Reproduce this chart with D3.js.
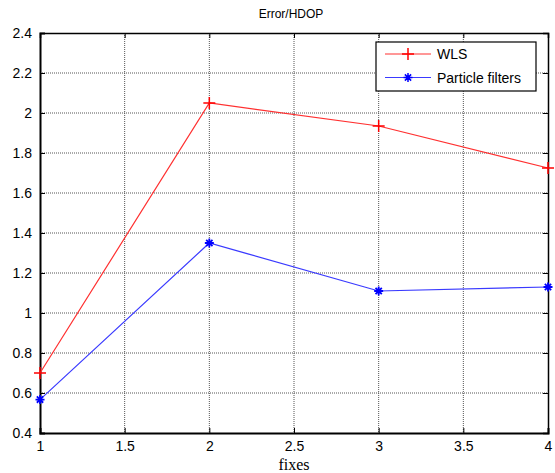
<!DOCTYPE html>
<html>
<head>
<meta charset="utf-8">
<script src="https://cdn.jsdelivr.net/npm/d3@7"></script>
<style>
  body { margin: 0; background: #fff; }
  svg { display: block; }
  .tick text { font-family: "Liberation Sans", Arial, sans-serif; font-size: 14px; fill: #000; }
</style>
</head>
<body>
<div id="chart"></div>
<script>
// Data
const fixes = [1, 2, 3, 4];
const wlsValues = [0.70, 2.05, 1.935, 1.725];
const pfValues = [0.567, 1.35, 1.11, 1.13];
const xTicks = [1, 1.5, 2, 2.5, 3, 3.5, 4];
const yTicks = [0.4, 0.6, 0.8, 1, 1.2, 1.4, 1.6, 1.8, 2, 2.2, 2.4];
const seriesNames = ["WLS", "Particle filters"];

const W = 555, H = 473;
const margin = { top: 33, right: 7, bottom: 40, left: 40 };
const width = W - margin.left - margin.right;
const height = H - margin.top - margin.bottom;

const svg = d3.select("#chart").append("svg")
  .attr("width", W)
  .attr("height", H);

const g = svg.append("g")
  .attr("transform", `translate(${margin.left},${margin.top})`);

const x = d3.scaleLinear().domain([1, 4]).range([0, width]);
const y = d3.scaleLinear().domain([0.4, 2.4]).range([height, 0]);

// Grid lines (dotted)
g.append("g").selectAll("line")
  .data(xTicks.slice(1, -1))
  .enter().append("line")
  .attr("x1", d => x(d)).attr("x2", d => x(d))
  .attr("y1", 0).attr("y2", height)
  .attr("stroke", "#555").attr("stroke-width", 1)
  .attr("stroke-dasharray", "1,1");

g.append("g").selectAll("line")
  .data(yTicks.slice(1, -1))
  .enter().append("line")
  .attr("x1", 0).attr("x2", width)
  .attr("y1", d => y(d)).attr("y2", d => y(d))
  .attr("stroke", "#555").attr("stroke-width", 1)
  .attr("stroke-dasharray", "1,1");

// Axes with inward ticks, box on all sides
const fmt = d => d3.format("")(+d.toFixed(2));
g.append("g")
  .attr("transform", `translate(0,${height})`)
  .call(d3.axisBottom(x).tickValues(xTicks).tickSize(-5).tickPadding(8).tickFormat(fmt))
  .call(a => a.select(".domain").attr("stroke-width", 2));
g.append("g")
  .call(d3.axisLeft(y).tickValues(yTicks).tickSize(-5).tickPadding(8).tickFormat(fmt))
  .call(a => a.select(".domain").attr("stroke-width", 2));
g.append("g")
  .call(d3.axisTop(x).tickValues(xTicks).tickSize(-5).tickFormat(""))
  .call(a => a.select(".domain").attr("stroke-width", 1.5));
g.append("g")
  .attr("transform", `translate(${width},0)`)
  .call(d3.axisRight(y).tickValues(yTicks).tickSize(-5).tickFormat(""))
  .call(a => a.select(".domain").attr("stroke-width", 1.5));
g.selectAll(".domain").attr("stroke", "#000");

// Lines
const line = d3.line().x((d, i) => x(fixes[i])).y(d => y(d));

g.append("path").datum(wlsValues)
  .attr("fill", "none").attr("stroke", "#ff3030").attr("stroke-width", 1.2)
  .attr("d", line);
g.append("path").datum(pfValues)
  .attr("fill", "none").attr("stroke", "#3a3aff").attr("stroke-width", 1.2)
  .attr("d", line);

// Markers
function plusPath(s) { return `M${-s},0H${s}M0,${-s}V${s}`; }
function starPath(s) {
  const d = s * 0.7;
  return `M${-s},0H${s}M0,${-s}V${s}M${-d},${-d}L${d},${d}M${-d},${d}L${d},${-d}`;
}

g.append("g").selectAll("path")
  .data(wlsValues).enter().append("path")
  .attr("transform", (d, i) => `translate(${x(fixes[i])},${y(d)})`)
  .attr("d", plusPath(6))
  .attr("stroke", "#ff0000").attr("stroke-width", 1.5);

g.append("g").selectAll("path")
  .data(pfValues).enter().append("path")
  .attr("transform", (d, i) => `translate(${x(fixes[i])},${y(d)})`)
  .attr("d", starPath(4.5))
  .attr("stroke", "#0000ff").attr("stroke-width", 1.8);

// Title and x label
svg.append("text")
  .attr("x", margin.left + width / 2 - 3).attr("y", 18)
  .attr("text-anchor", "middle")
  .style("font-family", "Liberation Sans, Arial, sans-serif")
  .style("font-size", "12px")
  .text("Error/HDOP");

svg.append("text")
  .attr("x", margin.left + width / 2).attr("y", 470)
  .attr("text-anchor", "middle")
  .style("font-family", "Liberation Serif, Times New Roman, serif")
  .style("font-size", "16px")
  .text("fixes");

// Legend
const legend = svg.append("g").attr("transform", "translate(376,42)");
legend.append("rect")
  .attr("width", 160).attr("height", 49)
  .attr("fill", "#fff").attr("stroke", "#000").attr("stroke-width", 1.2);

const legendColors = ["#ff3030", "#3a3aff"];
const legendMarkers = [plusPath(6), starPath(4.5)];
const markerColors = ["#ff0000", "#0000ff"];
seriesNames.forEach((name, i) => {
  const ly = 12 + i * 23.5;
  legend.append("line")
    .attr("x1", 9).attr("x2", 55).attr("y1", ly).attr("y2", ly)
    .attr("stroke", legendColors[i]).attr("stroke-width", 1.2);
  legend.append("path")
    .attr("transform", `translate(32,${ly})`)
    .attr("d", legendMarkers[i])
    .attr("stroke", markerColors[i]).attr("stroke-width", 1.5);
  legend.append("text")
    .attr("x", 61).attr("y", ly + 5)
    .style("font-family", "Liberation Sans, Arial, sans-serif")
    .style("font-size", "14px")
    .text(name);
});
</script>
</body>
</html>
